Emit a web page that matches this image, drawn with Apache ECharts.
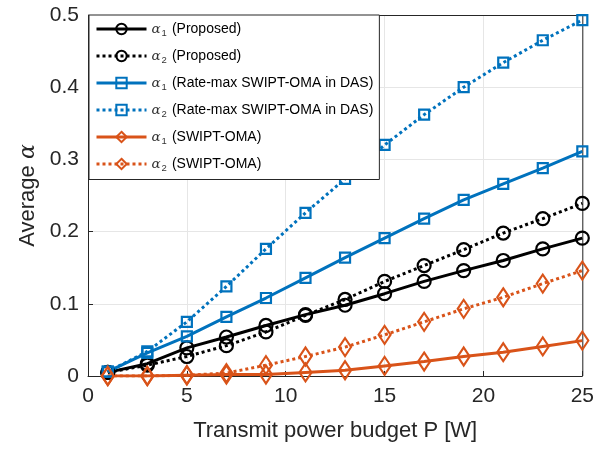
<!DOCTYPE html>
<html><head><meta charset="utf-8">
<script src="https://cdn.jsdelivr.net/npm/echarts@6/dist/echarts.min.js"></script>
<style>html,body{margin:0;padding:0;background:#fff}#c{width:597px;height:452px}</style>
</head><body><div id="c"></div>
<script>
const xValues = [1,3,5,7,9,11,13,15,17,19,21,23,25];
const a1Proposed = [0.005,0.017,0.039,0.054,0.070,0.085,0.098,0.114,0.131,0.146,0.160,0.176,0.191];
const a2Proposed = [0.005,0.015,0.027,0.042,0.061,0.084,0.106,0.131,0.153,0.175,0.198,0.218,0.239];
const a1RateMax = [0.006,0.032,0.055,0.082,0.108,0.136,0.164,0.191,0.218,0.244,0.266,0.288,0.311];
const a2RateMax = [0.006,0.034,0.075,0.124,0.176,0.226,0.273,0.320,0.362,0.400,0.434,0.465,0.493];
const a1Swipt = [0,0,0.001,0.002,0.002,0.005,0.008,0.014,0.020,0.027,0.033,0.041,0.049];
const a2Swipt = [0,0,0.001,0.004,0.015,0.027,0.040,0.057,0.075,0.093,0.109,0.128,0.146];
const legendNames = ['{a|α}{s|1}(Proposed)','{a|α}{s|2}(Proposed)','{a|α}{s|1}(Rate-max SWIPT-OMA in DAS)','{a|α}{s|2}(Rate-max SWIPT-OMA in DAS)','{a|α}{s|1}(SWIPT-OMA)','{a|α}{s|2}(SWIPT-OMA)'];
const xTicks = [0,5,10,15,20,25];
const yTicks = [0,0.1,0.2,0.3,0.4,0.5];

const BLUE='#0072BD', ORANGE='#D95319', BLACK='#000000';
function mk(name, data, color, dashed, symbol, size){
  return {
    name, type:'line', data: xValues.map((x,i)=>[x,data[i]]),
    symbol, symbolSize:size, showAllSymbol:true,
    lineStyle:{color, width:3, type: dashed? [3,3]:'solid'},
    itemStyle:{color:'rgba(255,255,255,0)', borderColor:color, borderWidth:2.2},
    emphasis:{disabled:true}, animation:false, z: 3
  };
}
const chart = echarts.init(document.getElementById('c'));
chart.setOption({
  backgroundColor:'#fff',
  animation:false,
  grid:{left:88, right:14, top:15, bottom:76},
  xAxis:{type:'value', min:0, max:25, interval:5,
    name:'Transmit power budget P [W]', nameLocation:'middle', nameGap:44,
    nameTextStyle:{fontFamily:'Liberation Sans, Arial', fontSize:22, color:'#262626'},
    axisLine:{show:true, onZero:false, lineStyle:{color:'#262626', width:1}},
    axisTick:{show:true, inside:true, length:5, lineStyle:{color:'#262626'}},
    axisLabel:{fontFamily:'Liberation Sans, Arial', fontSize:21, color:'#262626', margin:10,
      formatter:v=>xTicks.includes(v)?String(v):''},
    splitLine:{show:true, lineStyle:{color:'#e6e6e6', width:1}}
  },
  yAxis:{type:'value', min:0, max:0.5, interval:0.1,
    name:'Average {i|α}', nameLocation:'middle', nameGap:47, nameRotate:90,
    nameTextStyle:{fontFamily:'Liberation Sans, Arial', fontSize:22, color:'#262626',
      rich:{i:{fontFamily:'DejaVu Serif', fontStyle:'italic', fontSize:22, color:'#262626'}}},
    axisLine:{show:true, lineStyle:{color:'#262626', width:1}},
    axisTick:{show:true, inside:true, length:5, lineStyle:{color:'#262626'}},
    axisLabel:{fontFamily:'Liberation Sans, Arial', fontSize:21, color:'#262626', margin:9,
      formatter:v=>{const t=yTicks.find(y=>Math.abs(y-v)<1e-9);return t===undefined?'':(t===0?'0':String(+t.toFixed(1)));}},
    splitLine:{show:true, lineStyle:{color:'#e6e6e6', width:1}}
  },
  legend:{
    orient:'vertical', left:89, top:15, itemWidth:50, itemHeight:13, itemGap:10.5,
    backgroundColor:'#fff', borderColor:'#262626', borderWidth:1, padding:[7,6,6,6],
    lineStyle:{width:3},
    textStyle:{fontFamily:'Liberation Sans, Arial', fontSize:14, color:'#000',
      rich:{a:{fontFamily:'DejaVu Serif', fontStyle:'italic', fontSize:13.5, color:'#333'},
            s:{fontSize:9.5, color:'#333', padding:[9,5,0,1]}}},
    data: legendNames.map(n=>({name:n}))
  },
  series:[
    mk(legendNames[0], a1Proposed, BLACK, false, 'circle', 13),
    mk(legendNames[1], a2Proposed, BLACK, true, 'circle', 13),
    mk(legendNames[2], a1RateMax, BLUE, false, 'rect', 10),
    mk(legendNames[3], a2RateMax, BLUE, true, 'rect', 10),
    mk(legendNames[4], a1Swipt, ORANGE, false, 'diamond', [12,18]),
    mk(legendNames[5], a2Swipt, ORANGE, true, 'diamond', [12,18])
  ],
  graphic:[]
});
const g = chart.getModel().getComponent('grid').coordinateSystem.getRect();
chart.setOption({graphic:[
  {type:'line', shape:{x1:g.x, y1:g.y+0.5, x2:g.x+g.width, y2:g.y+0.5}, style:{stroke:'#262626', lineWidth:1}, z:1},
  {type:'line', shape:{x1:g.x+g.width+0.5, y1:g.y, x2:g.x+g.width+0.5, y2:g.y+g.height}, style:{stroke:'#262626', lineWidth:1}, z:1}
]});
</script></body></html>
